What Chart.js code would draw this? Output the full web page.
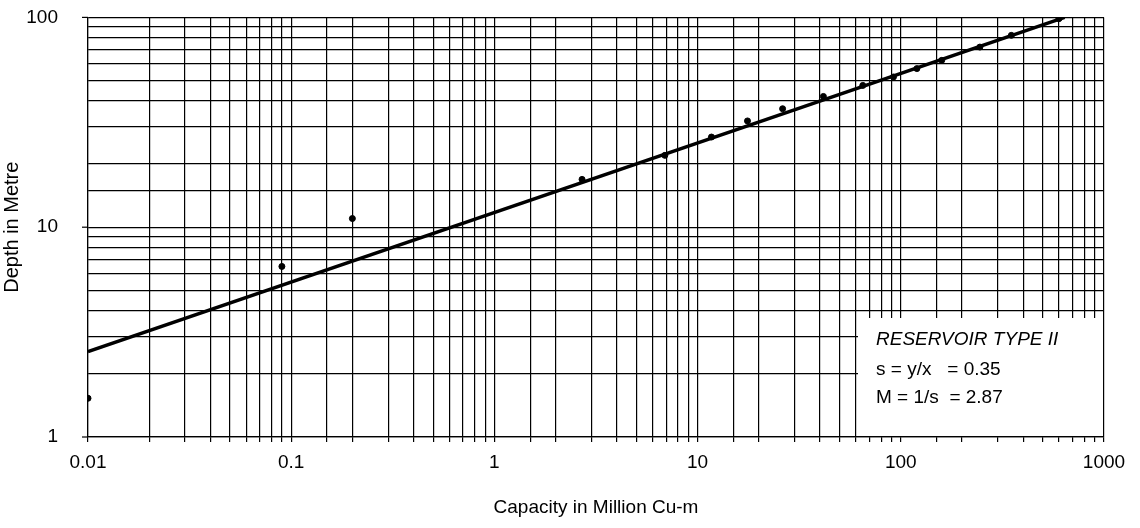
<!DOCTYPE html>
<html>
<head>
<meta charset="utf-8">
<script src="https://cdn.jsdelivr.net/npm/chart.js@4/dist/chart.umd.min.js"></script>
<style>
  html, body { margin: 0; padding: 0; background: #fff; }
  #wrap { width: 1140px; height: 528px; }
</style>
</head>
<body>
<div id="wrap"><canvas id="depthCapacity"></canvas></div>
<script>
// observed points (capacity in million cu-m, depth in m)
const capacity = [0.01, 0.09, 0.2, 2.7, 6.9, 11.7, 17.6, 26.2, 41.6, 65, 92, 120, 159, 245, 350, 600];
const depth    = [1.53, 6.5, 11.0, 16.9, 22.0, 26.9, 32.1, 36.7, 42.0, 47.4, 52.0, 57.0, 62.4, 72.2, 82.1, 98.6];

// fitted line end points
const fitCapacity = [0.01, 640];
const fitDepth    = [2.55, 100];

const xLabels = [0.01, 0.1, 1, 10, 100, 1000];
const yLabels = [1, 10, 100];

const noteLines = ["RESERVOIR TYPE II", "s = y/x   = 0.35", "M = 1/s  = 2.87"];

const FONT = '"Liberation Sans", Arial, sans-serif';

function toPoints(xs, ys) {
    let pts = [];
    for (let i = 0; i < xs.length; i++) {
        pts.push({x: xs[i], y: ys[i]});
    }
    return pts;
}

function isLabelled(v, list) {
    for (let i = 0; i < list.length; i++) {
        if (Math.abs(v - list[i]) / list[i] < 1e-6) return true;
    }
    return false;
}

// white box with the reservoir note, drawn over the grid
const notePlugin = {
    id: 'noteBox',
    beforeDatasetsDraw(chart) {
        const ctx = chart.ctx;
        const area = chart.chartArea;
        const left = area.right - 246;
        const top = area.bottom - 119;
        ctx.save();
        ctx.fillStyle = '#fff';
        ctx.fillRect(left, top, area.right - left - 1, area.bottom - top - 1);
        ctx.fillStyle = '#000';
        ctx.textBaseline = 'middle';
        ctx.font = 'italic 19px ' + FONT;
        ctx.fillText(noteLines[0], left + 18, top + 22);
        ctx.font = '19px ' + FONT;
        ctx.fillText(noteLines[1], left + 18, top + 52);
        ctx.fillText(noteLines[2], left + 18, top + 80);
        // short tick marks left of the y axis at the labelled values
        const ys = chart.scales.y;
        ctx.strokeStyle = '#000';
        ctx.lineWidth = 1.2;
        for (let i = 0; i < yLabels.length; i++) {
            const py = ys.getPixelForValue(yLabels[i]);
            ctx.beginPath();
            ctx.moveTo(area.left - 6, py);
            ctx.lineTo(area.left, py);
            ctx.stroke();
        }
        ctx.restore();
    }
};

const ctx = document.getElementById('depthCapacity');
new Chart(ctx, {
    data: {
        datasets: [{
            type: 'line',
            label: 'fit',
            data: toPoints(fitCapacity, fitDepth),
            borderColor: '#000',
            borderWidth: 3.5,
            pointRadius: 0,
            fill: false
        }, {
            type: 'scatter',
            label: 'observed',
            data: toPoints(capacity, depth),
            backgroundColor: '#000',
            borderColor: '#000',
            pointRadius: 3
        }]
    },
    options: {
        responsive: true,
        maintainAspectRatio: false,
        animation: false,
        layout: { padding: { left: 0, right: 36, top: 0, bottom: 0 } },
        plugins: {
            legend: { display: false },
            tooltip: { enabled: false }
        },
        scales: {
            x: {
                type: 'logarithmic',
                min: 0.01,
                max: 1000,
                afterFit(scale) { scale.height = 91; },
                grid: { color: '#000', lineWidth: 1.2, tickLength: 5 },
                border: { color: '#000', width: 1.2 },
                ticks: {
                    autoSkip: false,
                    maxRotation: 0,
                    padding: 9,
                    color: '#000',
                    font: { family: FONT, size: 19 },
                    callback: function(v) { return isLabelled(v, xLabels) ? String(v) : ''; }
                },
                title: {
                    display: true,
                    text: 'Capacity in Million Cu-m',
                    color: '#000',
                    padding: { top: 0, bottom: 9 },
                    font: { family: FONT, size: 19 }
                }
            },
            y: {
                type: 'logarithmic',
                min: 1,
                max: 100,
                afterFit(scale) { scale.width = 88; },
                grid: { color: '#000', lineWidth: 1.2, tickLength: 24, tickColor: 'rgba(0,0,0,0)' },
                border: { color: '#000', width: 1.2 },
                ticks: {
                    autoSkip: false,
                    padding: 6,
                    color: '#000',
                    font: { family: FONT, size: 19 },
                    callback: function(v) { return isLabelled(v, yLabels) ? String(v) : ''; }
                },
                title: {
                    display: true,
                    text: 'Depth in Metre',
                    color: '#000',
                    padding: { top: 0, bottom: 2 },
                    font: { family: FONT, size: 20 }
                }
            }
        }
    },
    plugins: [notePlugin]
});
</script>
</body>
</html>
